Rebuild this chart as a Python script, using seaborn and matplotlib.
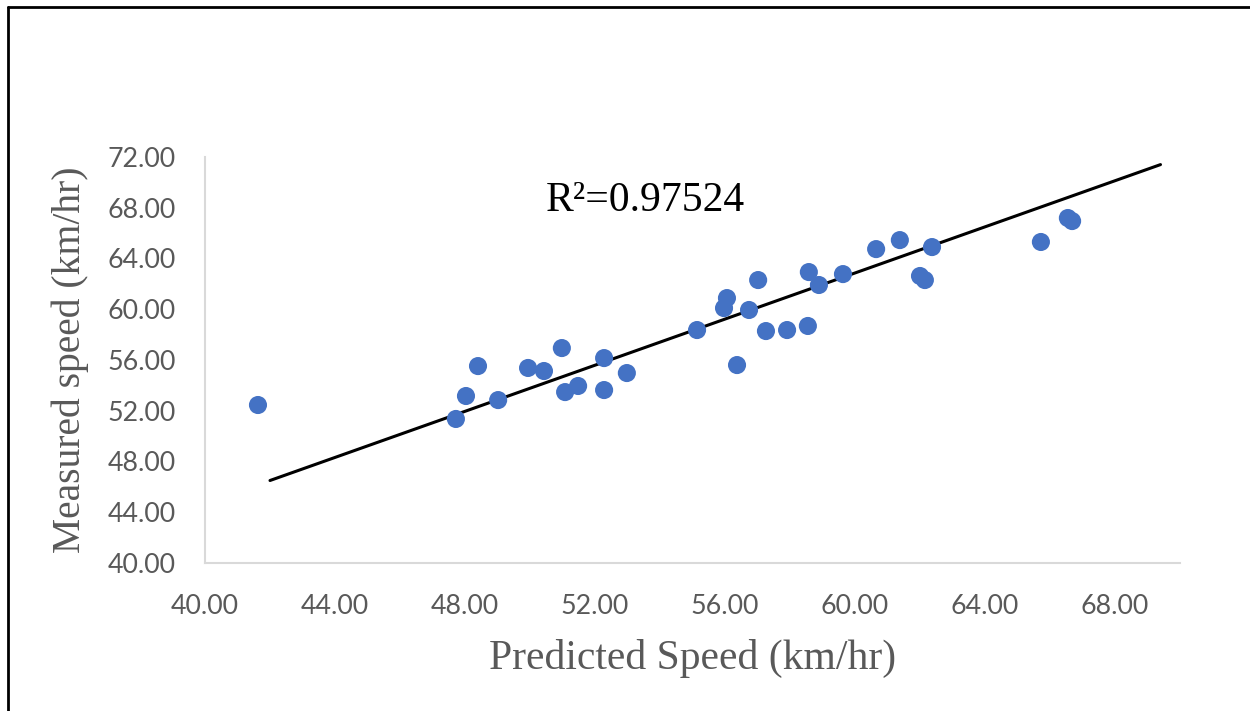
import matplotlib
matplotlib.use("Agg")
import matplotlib.pyplot as plt
import seaborn as sns
import pandas as pd
from matplotlib.lines import Line2D

predicted = [41.63, 47.72, 48.03, 48.40, 49.02, 49.94, 50.43, 50.98, 51.08, 51.48,
             52.28, 52.28, 52.98, 55.14, 55.97, 56.06, 56.37, 56.74, 57.02, 57.26,
             57.91, 58.55, 58.58, 58.89, 59.63, 60.65, 61.38, 62.00, 62.15, 62.37,
             65.72, 66.55, 66.68]
measured = [52.45, 51.35, 53.16, 55.52, 52.84, 55.37, 55.13, 56.94, 53.47, 53.95,
            53.63, 56.15, 54.97, 58.36, 60.09, 60.88, 55.60, 59.94, 62.30, 58.28,
            58.36, 58.68, 62.93, 61.91, 62.77, 64.74, 65.45, 62.62, 62.30, 64.90,
            65.30, 67.19, 66.95]
fit_x = [42.0, 69.4]
fit_y = [46.5, 71.4]
x_ticks = [40, 44, 48, 52, 56, 60, 64, 68]
y_ticks = [40, 44, 48, 52, 56, 60, 64, 68, 72]
r2_text = "R²=0.97524"

df = pd.DataFrame({"Predicted": predicted, "Measured": measured})

sns.set_style("white")
fig = plt.figure(figsize=(12.5, 7.11), dpi=100)
ax = fig.add_axes([0.164, 0.2082, 0.780, 0.571])

sns.lineplot(x=fit_x, y=fit_y, ax=ax, color="black", linewidth=2.2)
sns.scatterplot(data=df, x="Predicted", y="Measured", ax=ax, color="#4472C4",
                s=170, edgecolor="none", zorder=3)

ax.set_xlim(40, 70)
ax.set_ylim(40, 72)
ax.set_xticks(x_ticks)
ax.set_yticks(y_ticks)
ax.set_xticklabels([f"{v:.2f}" for v in x_ticks])
ax.set_yticklabels([f"{v:.2f}" for v in y_ticks])
ax.tick_params(axis="both", length=0, labelsize=19.3, labelcolor="#595959")
ax.tick_params(axis="x", pad=22)
ax.tick_params(axis="y", pad=21)
for lbl in ax.get_xticklabels() + ax.get_yticklabels():
    lbl.set_fontfamily("Lato")

for side in ["top", "right"]:
    ax.spines[side].set_visible(False)
for side in ["left", "bottom"]:
    ax.spines[side].set_color("#D9D9D9")
    ax.spines[side].set_linewidth(1.5)

ax.set_xlabel("Predicted Speed (km/hr)", fontsize=30, fontfamily="Liberation Serif",
              color="#595959", labelpad=15)
ax.set_ylabel("Measured speed (km/hr)", fontsize=28.5, fontfamily="Liberation Serif",
              color="#595959", labelpad=13)

ax.text(0.349, 0.893, r2_text, transform=ax.transAxes, fontsize=30,
        fontfamily="Liberation Serif", color="black", ha="left", va="center")

fig.add_artist(Line2D([0.0064, 1.0], [0.990, 0.990], transform=fig.transFigure,
                      color="black", linewidth=2))
fig.add_artist(Line2D([0.0064, 0.0064], [0.0, 0.990], transform=fig.transFigure,
                      color="black", linewidth=2))

fig.savefig("out.png", dpi=100, facecolor="white")
